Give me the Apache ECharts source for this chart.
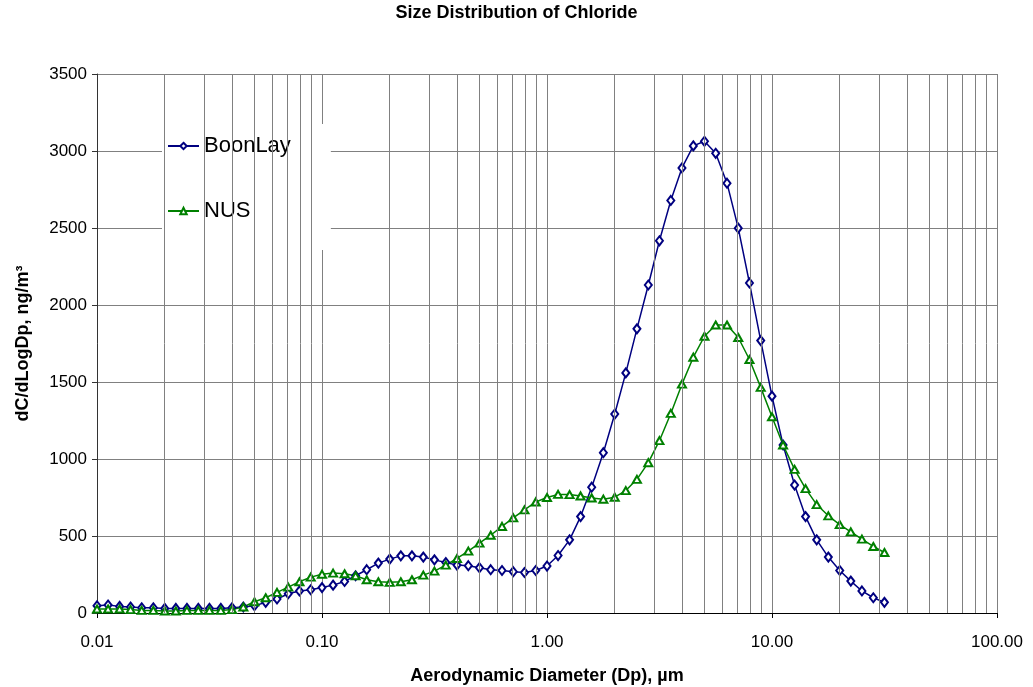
<!DOCTYPE html>
<html>
<head>
<meta charset="utf-8">
<title>Size Distribution of Chloride</title>
<script src="https://cdn.jsdelivr.net/npm/echarts@6/dist/echarts.min.js"></script>
<style>
    html, body { margin: 0; padding: 0; background: #fff; }
    #chart { width: 1033px; height: 687px; }
</style>
</head>
<body>
<div id="chart"></div>
<script>
// aerodynamic diameter, um (20 stages per decade)
var diameters = [
    0.0100, 0.0112, 0.0126, 0.0141, 0.0158, 0.0178, 0.0200, 0.0224, 0.0251, 0.0282,
    0.0316, 0.0355, 0.0398, 0.0447, 0.0501, 0.0562, 0.0631, 0.0708, 0.0794, 0.0891,
    0.100, 0.112, 0.126, 0.141, 0.158, 0.178, 0.200, 0.224, 0.251, 0.282,
    0.316, 0.355, 0.398, 0.447, 0.501, 0.562, 0.631, 0.708, 0.794, 0.891,
    1.00, 1.12, 1.26, 1.41, 1.58, 1.78, 2.00, 2.24, 2.51, 2.82,
    3.16, 3.55, 3.98, 4.47, 5.01, 5.62, 6.31, 7.08, 7.94, 8.91,
    10.0, 11.2, 12.6, 14.1, 15.8, 17.8, 20.0, 22.4, 25.1, 28.2, 31.6
]
// dC/dLogDp, ng/m3
var boonLay = [
    47, 52, 43, 39, 34, 34, 30, 30, 30, 30,
    30, 30, 34, 39, 47, 69, 91, 125, 143, 151,
    165, 181, 205, 242, 281, 324, 350, 371, 371, 363,
    345, 328, 311, 307, 294, 281, 276, 268, 263, 276,
    305, 373, 475, 626, 817, 1041, 1292, 1559, 1845, 2130,
    2417, 2679, 2890, 3033, 3063, 2985, 2791, 2499, 2143, 1769,
    1408, 1091, 831, 626, 475, 363, 276, 207, 143, 99, 69
]
var nus = [
    26, 26, 26, 22, 17, 17, 13, 13, 17, 17,
    17, 17, 22, 39, 73, 99, 134, 168, 203, 233,
    252, 259, 255, 242, 216, 203, 199, 203, 216, 246,
    272, 311, 354, 402, 454, 505, 562, 618, 670, 721,
    750, 770, 769, 760, 747, 739, 752, 795, 868, 976,
    1119, 1296, 1486, 1661, 1797, 1870, 1870, 1789, 1646, 1465,
    1274, 1091, 933, 808, 704, 631, 574, 527, 480, 432, 393
]
var seriesNames = ['BoonLay', 'NUS']

function pairs(xs, ys) {
    return xs.map(function (x, i) { return [x, ys[i]] })
}

// minor log grid lines (2..9 in each decade)
var minorLines = []
for (var d = -2; d < 2; d++) {
    for (var m = 2; m <= 9; m++) {
        minorLines.push({ xAxis: m * Math.pow(10, d) })
    }
}

var gridColor = '#808080'
var font = '"Liberation Sans", Arial, sans-serif'

var chart = echarts.init(document.getElementById('chart'))
chart.setOption({
    animation: false,
    backgroundColor: '#fff',
    textStyle: { fontFamily: font },
    title: {
        text: 'Size Distribution of Chloride',
        left: 'center',
        top: 4,
        padding: 0,
        textStyle: { fontSize: 18, fontWeight: 'bold', color: '#000', fontFamily: font }
    },
    grid: {
        left: 97,
        right: 36,
        top: 74,
        bottom: 74,
        containLabel: false,
        outerBoundsMode: 'none' // keep the plot box where it is
    },
    legend: {
        data: seriesNames,
        orient: 'vertical',
        left: 162,
        top: 124,
        backgroundColor: '#fff',
        padding: [10, 40, 27, 5],
        itemGap: 41,
        itemWidth: 31,
        itemHeight: 8,
        textStyle: { fontSize: 22, color: '#000', fontFamily: font, lineHeight: 24 }
    },
    xAxis: {
        type: 'log',
        logBase: 10,
        min: 0.01,
        max: 100,
        name: 'Aerodynamic Diameter (Dp), µm',
        nameLocation: 'middle',
        nameGap: 54,
        nameTextStyle: { fontSize: 18, fontWeight: 'bold', color: '#000' },
        axisLine: { lineStyle: { color: '#000', width: 1 } },
        axisTick: { show: true, length: 5, lineStyle: { color: '#000' } },
        axisLabel: {
            fontSize: 17,
            color: '#000',
            margin: 21,
            formatter: function (v) {
                return (+v).toFixed(2)
            }
        },
        splitLine: { show: true, lineStyle: { color: gridColor, width: 1 } }
    },
    yAxis: {
        type: 'value',
        min: 0,
        max: 3500,
        interval: 500,
        name: 'dC/dLogDp, ng/m³',
        nameLocation: 'middle',
        nameRotate: 90,
        nameGap: 65,
        nameTextStyle: { fontSize: 18, fontWeight: 'bold', color: '#000' },
        axisLine: { show: true, lineStyle: { color: '#333', width: 1 } },
        axisTick: { show: true, length: 5, lineStyle: { color: '#333' } },
        axisLabel: {
            fontSize: 17,
            color: '#000',
            margin: 10,
            formatter: function (v) { return String(v) }
        },
        splitLine: { show: true, lineStyle: { color: gridColor, width: 1 } }
    },
    series: [
        {
            // only carries the minor grid lines
            name: 'minorGrid',
            type: 'line',
            data: [],
            z: 1,
            silent: true,
            markLine: {
                silent: true,
                symbol: ['none', 'none'],
                label: { show: false },
                lineStyle: { color: gridColor, width: 1, type: 'solid' },
                emphasis: { disabled: true },
                data: minorLines
            }
        },
        {
            name: 'BoonLay',
            type: 'line',
            data: pairs(diameters, boonLay),
            symbol: 'emptyDiamond',
            symbolSize: [7, 9],
            showAllSymbol: true,
            color: '#000080',
            lineStyle: { color: '#000080', width: 1.5 },
            itemStyle: { color: '#000080', borderWidth: 1.5 },
            z: 3
        },
        {
            name: 'NUS',
            type: 'line',
            data: pairs(diameters, nus),
            symbol: 'emptyTriangle',
            symbolSize: [8, 7],
            showAllSymbol: true,
            color: '#008000',
            lineStyle: { color: '#008000', width: 1.5 },
            itemStyle: { color: '#008000', borderWidth: 1.5 },
            z: 3
        }
    ]
})
</script>
</body>
</html>
